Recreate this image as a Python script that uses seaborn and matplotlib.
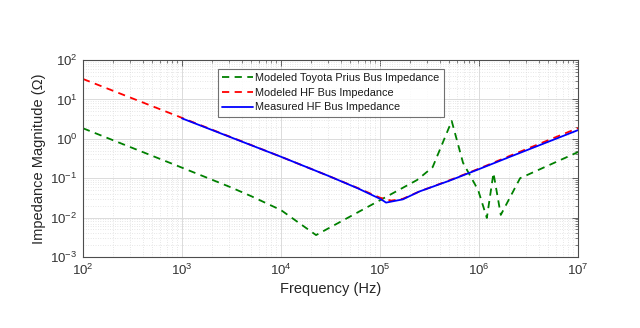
import matplotlib
matplotlib.use("Agg")
import matplotlib.pyplot as plt
import seaborn as sns
import pandas as pd
import numpy as np
from matplotlib.ticker import LogLocator, NullFormatter

# ---- data ----
prius_freq = [1e2, 1e3, 3e3, 5e3, 1e4, 2.26e4, 2.37e5, 3.4e5, 5.3e5, 6.9e5, 9.8e5,
              1.2e6, 1.4e6, 1.66e6, 2.6e6, 1e7]
prius_z = [1.85, 0.185, 0.061, 0.035, 0.0155, 0.0036, 0.09, 0.19, 2.83, 0.245, 0.05,
           0.0098, 0.135, 0.0117, 0.1, 0.46]

hf_model_freq = [1e2, 1e3, 1e4, 3e4, 6e4, 1e5, 1.3e5, 1.7e5, 2.5e5, 5e5, 1e6,
                 2e6, 5e6, 1e7]
hf_model_z = [33, 3.4, 0.35, 0.115, 0.056, 0.032, 0.027, 0.03, 0.046, 0.088,
              0.175, 0.36, 0.92, 1.87]

hf_meas_freq = [1e3, 1e4, 3e4, 6e4, 1e5, 1.1e5, 1.15e5, 1.3e5, 1.7e5, 2.5e5,
                5e5, 1e6, 2e6, 5e6, 1e7]
hf_meas_z = [3.3, 0.35, 0.115, 0.055, 0.03, 0.026, 0.024, 0.0255, 0.029,
             0.046, 0.086, 0.17, 0.34, 0.84, 1.66]

labels = ["Modeled Toyota Prius Bus Impedance",
          "Modeled HF Bus Impedance",
          "Measured HF Bus Impedance"]

sns.set_theme(style="white")
plt.rcParams["font.family"] = ["Liberation Sans", "DejaVu Sans"]
plt.rcParams["mathtext.default"] = "regular"

fig = plt.figure(figsize=(6.4, 3.28), dpi=100)
ax = fig.add_axes([83/640, 1-257/328, 495/640, 197/328])

edge = "0.3"
for spine in ax.spines.values():
    spine.set_color(edge)
    spine.set_linewidth(0.8)

df1 = pd.DataFrame({"f": prius_freq, "z": prius_z})
df2 = pd.DataFrame({"f": hf_model_freq, "z": hf_model_z})
df3 = pd.DataFrame({"f": hf_meas_freq, "z": hf_meas_z})

sns.lineplot(data=df1, x="f", y="z", ax=ax, color=(0, 0.5, 0), lw=1.3,
             linestyle=(0, (4, 3)), sort=False, estimator=None, label=labels[0])
sns.lineplot(data=df2, x="f", y="z", ax=ax, color=(1, 0, 0), lw=1.3,
             linestyle=(0, (4, 3)), sort=False, estimator=None, label=labels[1])
sns.lineplot(data=df3, x="f", y="z", ax=ax, color=(0, 0, 1), lw=1.3,
             linestyle="-", sort=False, estimator=None, label=labels[2])

ax.set_xscale("log")
ax.set_yscale("log")
ax.set_xlim(1e2, 1e7)
ax.set_ylim(1e-3, 1e2)

ax.xaxis.set_major_locator(LogLocator(base=10, numticks=20))
ax.yaxis.set_major_locator(LogLocator(base=10, numticks=20))
ax.xaxis.set_minor_locator(LogLocator(base=10, subs=np.arange(2, 10), numticks=20))
ax.yaxis.set_minor_locator(LogLocator(base=10, subs=np.arange(2, 10), numticks=20))
ax.xaxis.set_minor_formatter(NullFormatter())
ax.yaxis.set_minor_formatter(NullFormatter())

ax.grid(True, which="major", color="0.86", lw=0.7, ls="-")
ax.grid(True, which="minor", color="0.82", lw=0.5, ls=(0, (1, 2.5)))
ax.set_axisbelow(True)

ax.tick_params(which="both", direction="in", top=True, right=True,
               colors=edge, labelcolor="0.2")
ax.tick_params(which="major", length=4, width=0.6, labelsize=9.5, pad=4)
ax.tick_params(which="minor", length=2, width=0.5)

ax.set_xlabel("Frequency (Hz)", fontsize=10.5, color="0.15", labelpad=3)
ax.set_ylabel("Impedance Magnitude (\u03a9)", fontsize=10.5, color="0.15", labelpad=3)

leg = ax.legend(loc="upper left", bbox_to_anchor=(0.273, 0.955), borderaxespad=0,
                fontsize=7.8, frameon=True, fancybox=False, handlelength=2.8,
                handletextpad=0.2, labelspacing=0.42, borderpad=0.4)
leg.get_frame().set_edgecolor("0.3")
leg.get_frame().set_linewidth(0.8)
for t in leg.get_texts():
    t.set_color("0.1")

fig.savefig("out.png", dpi=100, facecolor="white")
